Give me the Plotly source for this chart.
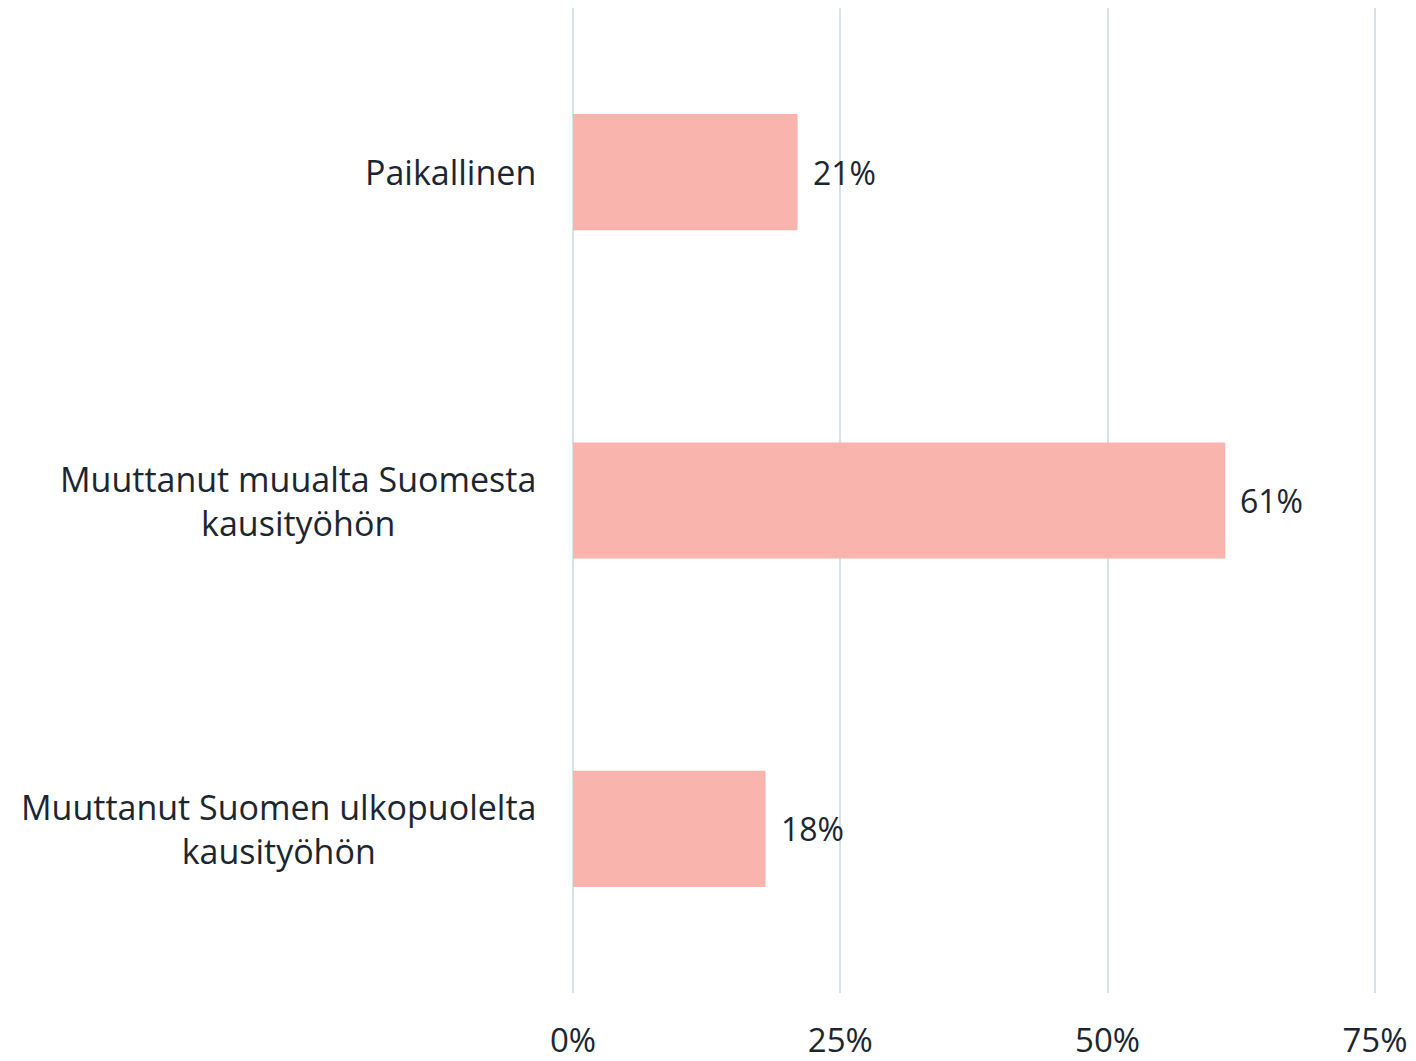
import plotly.graph_objects as go

categories = ["Paikallinen",
              "Muuttanut muualta Suomesta<br>kausityöhön",
              "Muuttanut Suomen ulkopuolelta<br>kausityöhön"]
values = [21, 61, 18]
value_labels = ["21%", "61%", "18%"]
tick_vals = [0, 25, 50, 75]
tick_text = ["0%", "25%", "50%", "75%"]

FONT = "Open Sans"
TXT = "#1b2631"
BAR = "#fab4ae"
GRID = "#d9e1e8"

# page has an 8px body margin
W, H = 1400, 1053
X0, X1 = -0.1, 75.1
PX_PER = 802 / 75.0
L = int(round(565 - 0.1 * PX_PER))
PW = (X1 - X0) * PX_PER
R = int(round(W - L - PW))
T, B = 0, 68

fig = go.Figure(go.Bar(
    x=values, y=categories, orientation="h",
    marker=dict(color=BAR, line=dict(width=0)),
    width=0.354, hoverinfo="skip",
))

for c, v, t in zip(categories, values, value_labels):
    fig.add_annotation(x=v, y=c, xref="x", yref="y", text=t, showarrow=False,
                       xanchor="left", yanchor="middle", xshift=13,
                       font=dict(family=FONT, size=32, color=TXT))
    fig.add_annotation(x=0, y=c, xref="x", yref="y", text=c,
                       showarrow=False, xanchor="right", yanchor="middle",
                       align="center", xshift=-35,
                       font=dict(family=FONT, size=34, color=TXT))

fig.update_layout(
    width=W, height=H,
    margin=dict(l=L, r=R, t=T, b=B, autoexpand=False),
    paper_bgcolor="white", plot_bgcolor="white",
    showlegend=False,
    xaxis=dict(range=[X0, X1], tickvals=tick_vals, ticktext=tick_text,
               showgrid=True, gridcolor=GRID, gridwidth=2, zeroline=False,
               showline=False, ticks="", ticklabelstandoff=25, automargin=False,
               tickfont=dict(family=FONT, size=33, color=TXT), fixedrange=True),
    yaxis=dict(categoryorder="array", categoryarray=categories[::-1],
               range=[-0.5, 2.5], showticklabels=False, showgrid=False,
               zeroline=False, showline=False, fixedrange=True, automargin=False),
)

fig.write_html("out.html")
